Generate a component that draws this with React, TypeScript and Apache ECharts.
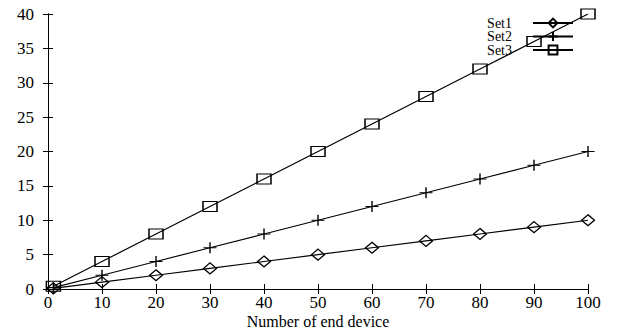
import React, { useEffect, useRef } from "react";
import * as echarts from "echarts";

const xValues = [1, 10, 20, 30, 40, 50, 60, 70, 80, 90, 100];
const set1 = [0.1, 1, 2, 3, 4, 5, 6, 7, 8, 9, 10];
const set2 = [0.2, 2, 4, 6, 8, 10, 12, 14, 16, 18, 20];
const set3 = [0.4, 4, 8, 12, 16, 20, 24, 28, 32, 36, 40];
const seriesNames = ["Set1", "Set2", "Set3"];
const xAxisName = "Number of end device";

const FONT = "Liberation Serif";

export default function App() {
  const ref = useRef<HTMLDivElement>(null);
  useEffect(() => {
    if (!ref.current) return;
    const chart = echarts.init(ref.current, undefined, { renderer: "svg" });
    const mk = (name: string, vals: number[], symbol: string, size: any) => ({
      name,
      type: "line",
      data: xValues.map((x, i) => [x, vals[i]]),
      symbol,
      symbolSize: size,
      showAllSymbol: true,
      lineStyle: { color: "#000", width: 1.2 },
      itemStyle: { color: "rgba(0,0,0,0)", borderColor: "#000", borderWidth: 1.3 },
      emphasis: { disabled: true },
      z: 3,
    });
    const tickAxis = {
      axisLine: { show: true, lineStyle: { color: "#000", width: 1 } },
      axisTick: { show: true, inside: true, length: 5, lineStyle: { color: "#000" } },
      splitLine: { show: false },
    };
    const legendTops = [16, 29.5, 43];
    const legends = seriesNames.map((n, i) => ({
      orient: "vertical",
      right: 43,
      top: legendTops[i],
      padding: 0,
      align: "right",
      itemWidth: 40,
      itemHeight: 11,
      data: [n],
      selectedMode: false,
      textStyle: { fontFamily: FONT, fontSize: 14, lineHeight: 12, color: "#000", padding: [0, 16, 0, 0] },
    }));
    chart.setOption({
      animation: false,
      textStyle: { fontFamily: FONT },
      grid: { left: 48, right: 29, top: 14, bottom: 44, outerBoundsMode: "none", containLabel: false },
      legend: legends,
      xAxis: [
        {
          type: "value",
          min: 0,
          max: 100,
          interval: 10,
          name: xAxisName,
          nameLocation: "middle",
          nameGap: 24,
          nameMoveOverlap: false,
          nameTextStyle: { fontFamily: FONT, fontSize: 16, lineHeight: 16, color: "#000" },
          axisLabel: { fontFamily: FONT, fontSize: 17, lineHeight: 17, color: "#000", margin: 5 },
          ...tickAxis,
        },
        {
          type: "value",
          position: "top",
          min: 0,
          max: 100,
          interval: 10,
          axisLabel: { show: false },
          ...tickAxis,
        },
      ],
      yAxis: [
        {
          type: "value",
          min: 0,
          max: 40,
          interval: 5,
          axisLabel: { fontFamily: FONT, fontSize: 17, color: "#000", margin: 14 },
          ...tickAxis,
        },
        {
          type: "value",
          position: "right",
          min: 0,
          max: 40,
          interval: 5,
          axisLabel: { show: false },
          ...tickAxis,
        },
      ],
      series: [
        mk(seriesNames[0], set1, "diamond", [13, 11]),
        mk(seriesNames[1], set2, "path://M0,5L10,5M5,0L5,10", [13, 11]),
        mk(seriesNames[2], set3, "rect", [14, 10]),
      ],
    });
    return () => chart.dispose();
  }, []);
  return <div ref={ref} style={{ width: 617, height: 333, position: "absolute", left: 0, top: 0 }} />;
}
